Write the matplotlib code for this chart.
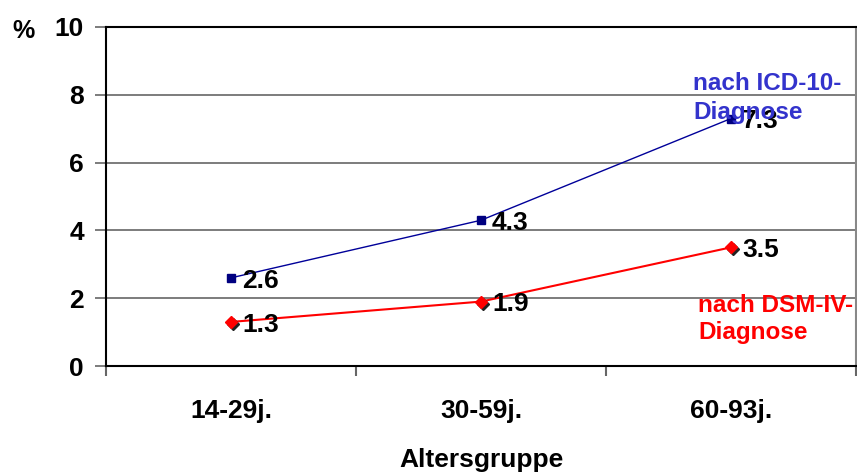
import matplotlib.pyplot as plt
import matplotlib.transforms as mtransforms

plt.rcParams['font.family'] = ['Liberation Sans', 'DejaVu Sans']

gruppen = ['14-29j.', '30-59j.', '60-93j.']
icd10 = [2.6, 4.3, 7.3]
dsm4 = [1.3, 1.9, 3.5]
yticks = [0, 2, 4, 6, 8, 10]

fig = plt.figure(figsize=(8.57, 4.74), dpi=100)
ax = fig.add_axes([106/857, 108/474, 750/857, 339/474])

x = [0.5, 1.5, 2.5]

# horizontal grid
for yv in yticks[1:]:
    ax.axhline(yv, color='#666666', lw=1.2, zorder=1)

# ICD-10 line
ax.plot(x, icd10, color='#000099', lw=1, zorder=3)
ax.plot(x, icd10, ls='none', marker='s', ms=6, color='#000080', zorder=4)

# DSM-IV line, diamonds with a dark shadow
shadow = mtransforms.offset_copy(ax.transData, fig=fig, x=1.5, y=-1.5, units='points')
ax.plot(x, dsm4, color='#ff0000', lw=1.5, zorder=3)
ax.plot(x, dsm4, ls='none', marker='D', ms=6, color='#222222', transform=shadow, zorder=4)
ax.plot(x, dsm4, ls='none', marker='D', ms=6, color='#ff0000', zorder=5)

for xi, v in zip(x, icd10):
    ax.annotate(f'{v:.1f}', (xi, v), xytext=(8, -2), textcoords='offset points',
                ha='left', va='center', fontsize=19, fontweight='bold', zorder=6)
for xi, v in zip(x, dsm4):
    ax.annotate(f'{v:.1f}', (xi, v), xytext=(8, -2), textcoords='offset points',
                ha='left', va='center', fontsize=19, fontweight='bold', zorder=6)

ax.text(2.349, 7.15, 'nach ICD-10-\nDiagnose', color='#3333cc', fontsize=17.5,
        fontweight='bold', ha='left', va='bottom', linespacing=1.3, zorder=7)
ax.text(2.368, 0.65, 'nach DSM-IV-\nDiagnose', color='#ff0000', fontsize=17.5,
        fontweight='bold', ha='left', va='bottom', linespacing=1.2, zorder=7)

ax.set_xlim(0, 3)
ax.set_ylim(0, 10)
ax.set_yticks(yticks)
ax.set_yticklabels([str(t) for t in yticks], fontsize=19, fontweight='bold')
ax.set_xticks([0, 1, 2, 3])
ax.set_xticklabels([])
ax.set_xticks(x, minor=True)
ax.set_xticklabels(gruppen, minor=True, fontsize=19, fontweight='bold')
ax.tick_params(axis='x', which='minor', length=0, pad=24)
ax.tick_params(axis='x', which='major', length=7, width=1.5, color='#666666', direction='out')
ax.tick_params(axis='y', length=8, width=1.2, color='#666666', direction='out', pad=8)

for s in ['left', 'bottom', 'top']:
    ax.spines[s].set_color('black')
    ax.spines[s].set_linewidth(1.5)
ax.spines['right'].set_color('#888888')
ax.spines['right'].set_linewidth(1.5)

ax.set_xlabel('Altersgruppe', fontsize=19, fontweight='bold', labelpad=18)
fig.text(12/857, 1 - 31/474, '%', fontsize=18, fontweight='bold', ha='left', va='center')

fig.savefig('out.png', dpi=100)
